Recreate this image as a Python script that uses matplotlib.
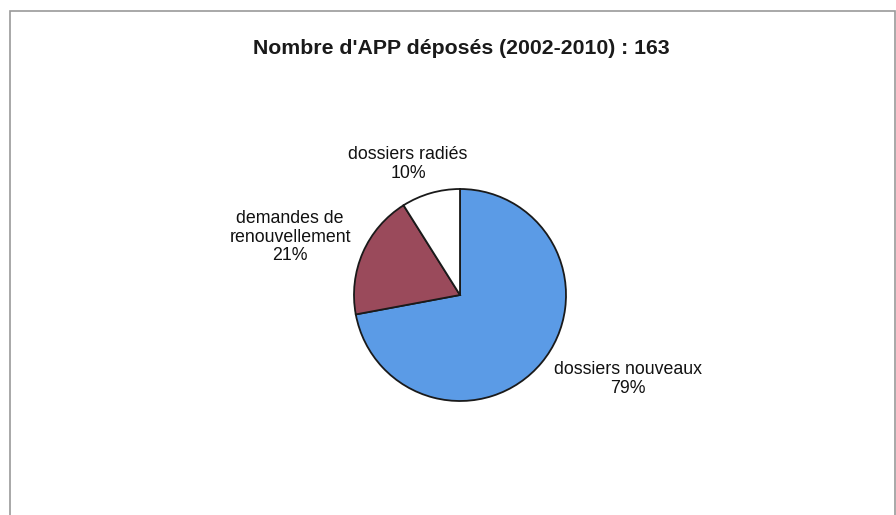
import matplotlib
matplotlib.use("Agg")
import matplotlib.pyplot as plt
from matplotlib.patches import Rectangle

# APP files filed 2002-2010
total_deposes = 163
categories = ["dossiers nouveaux", "demandes de\nrenouvellement", "dossiers radiés"]
counts = [129, 34, 16]
colors = ["#5b9be6", "#9a4a5b", "#ffffff"]

plt.rcParams["font.family"] = ["Liberation Sans", "DejaVu Sans"]

fig = plt.figure(figsize=(8.96, 5.15), dpi=100)
ax = fig.add_axes([0, 0, 1, 1])

wedges, _ = ax.pie(counts, colors=colors, startangle=90, counterclock=False,
                   center=(460, 220), radius=106,
                   wedgeprops=dict(edgecolor="#1a1a1a", linewidth=1.3))

# labels show each count as a share of the total filed
label_pos = [(628, 136), (290, 278), (408, 351)]
for cat, n, (x, y) in zip(categories, counts, label_pos):
    pct = round(100 * n / total_deposes)
    ax.text(x, y, f"{cat}\n{pct}%", ha="center", va="center",
            fontsize=12.8, color="#111111", linespacing=1.1)

ax.text(461, 467, f"Nombre d'APP déposés (2002-2010) : {total_deposes}",
        ha="center", va="center", fontsize=15.3, fontweight="bold", color="#1a1a1a")

# chart frame
ax.add_patch(Rectangle((10, -5), 885, 509, fill=False, edgecolor="#9a9a9a",
                       linewidth=1.2))

ax.set_xlim(0, 896)
ax.set_ylim(0, 515)
ax.set_aspect("equal")
ax.axis("off")

fig.savefig("out.png", dpi=100)
